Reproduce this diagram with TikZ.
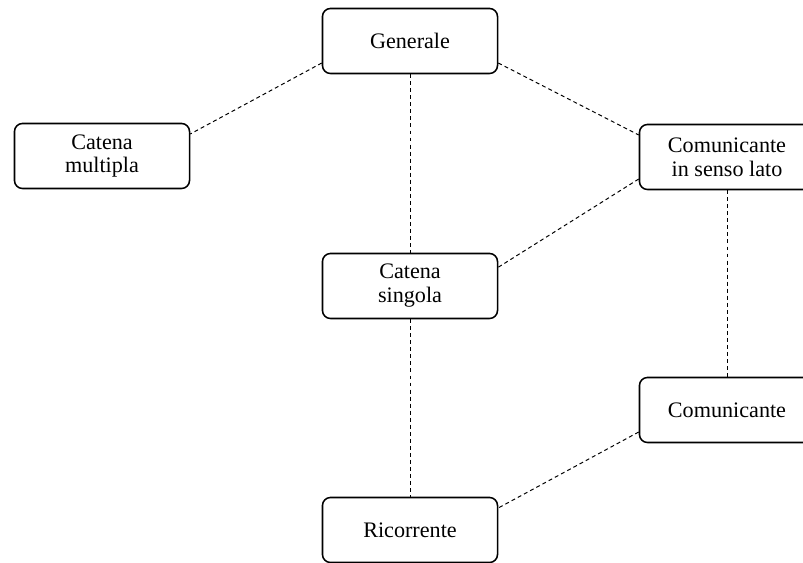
\documentclass[tikz,border=0pt]{standalone}
\usepackage{fontspec}
\setmainfont{Liberation Serif}
\usepackage{tikz}
\usetikzlibrary{positioning}

\begin{document}
\begin{tikzpicture}[x=0.025cm, y=-0.025cm,
    tipo/.style={draw, rounded corners=0.2cm, line width=1.1pt, minimum width=4.375cm,
        minimum height=1.625cm, inner sep=0pt, align=center,
        font=\fontsize{15.75}{17}\selectfont},
    legame/.style={line width=0.7pt, dash pattern=on 2.8pt off 2.2pt}]
    \useasboundingbox (0,0) rectangle (803,563);

    % I tipi di catena
    \node[tipo] (gen)   at (410,41)  {Generale};
    \node[tipo] (cmult) at (102,156) {Catena\\multipla};
    \node[tipo] (csl)   at (727,157) {Comunicante\\in senso lato};
    \node[tipo] (csing) at (410,286) {Catena\\singola};
    \node[tipo] (com)   at (727,410) {Comunicante};
    \node[tipo] (ric)   at (410,530) {Ricorrente};

    % Legami tratteggiati
    \draw[legame] (gen.194) -- (cmult.14);
    \draw[legame] (gen.-14) -- (csl.166);
    \draw[legame] (gen.south) -- (csing.north);
    \draw[legame] (csl.194) -- (csing.12);
    \draw[legame] (csl.south) -- (com.north);
    \draw[legame] (csing.south) -- (ric.north);
    \draw[legame] (com.194) -- (ric.14);
\end{tikzpicture}
\end{document}
